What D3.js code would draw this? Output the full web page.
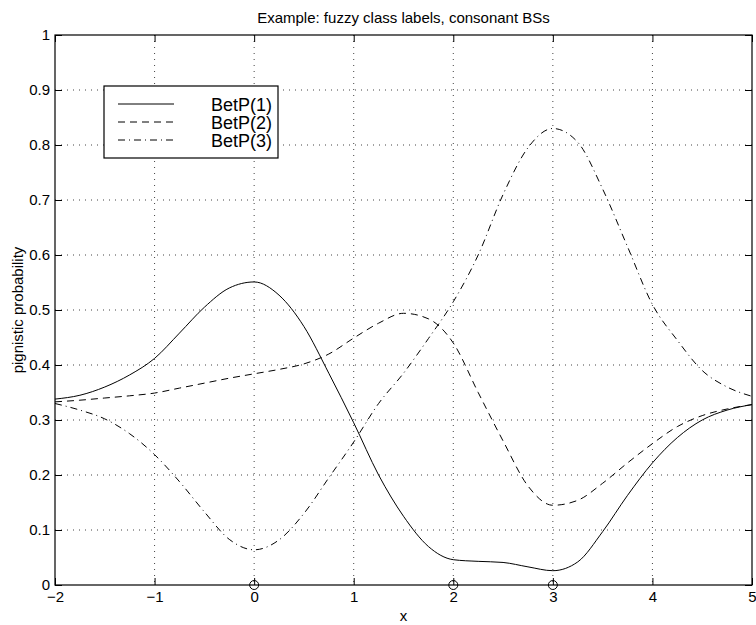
<!DOCTYPE html>
<html>
<head>
<meta charset="utf-8">
<script src="https://cdn.jsdelivr.net/npm/d3@7"></script>
<style>
  html, body { margin: 0; padding: 0; background: #fff; overflow: hidden; }
  svg { display: block; }
  text { font-family: "Liberation Sans", Arial, Helvetica, sans-serif; }
</style>
</head>
<body>
<svg id="chart"></svg>
<script>
// values, step 0.25
const xValues = [-2, -1.75, -1.5, -1.25, -1, -0.75, -0.5, -0.25, 0, 0.25, 0.5, 0.75, 1, 1.25, 1.5,
  1.75, 2, 2.25, 2.5, 2.75, 3, 3.25, 3.5, 3.75, 4, 4.25, 4.5, 4.75, 5];
const betP1 = [0.338, 0.345, 0.360, 0.382, 0.412, 0.458, 0.505, 0.540, 0.551, 0.527, 0.470, 0.385,
  0.295, 0.200, 0.125, 0.070, 0.046, 0.043, 0.041, 0.033, 0.026, 0.042, 0.097, 0.163, 0.222, 0.268,
  0.300, 0.318, 0.328];
const betP2 = [0.333, 0.336, 0.340, 0.344, 0.349, 0.358, 0.367, 0.376, 0.384, 0.392, 0.402, 0.420,
  0.449, 0.476, 0.494, 0.484, 0.440, 0.350, 0.262, 0.180, 0.145, 0.154, 0.185, 0.222, 0.257, 0.288,
  0.308, 0.320, 0.328];
const betP3 = [0.330, 0.318, 0.302, 0.275, 0.237, 0.188, 0.133, 0.083, 0.064, 0.082, 0.130, 0.195,
  0.260, 0.330, 0.385, 0.448, 0.515, 0.600, 0.710, 0.795, 0.830, 0.805, 0.720, 0.615, 0.510, 0.445,
  0.390, 0.360, 0.343];
const markerX = [0, 2, 3];
const seriesNames = ["BetP(1)", "BetP(2)", "BetP(3)"];
const dashes = [null, "7,5", "7,4,1,4"];
const xTicks = [-2, -1, 0, 1, 2, 3, 4, 5];
const yTicks = [0, 0.1, 0.2, 0.3, 0.4, 0.5, 0.6, 0.7, 0.8, 0.9, 1];

const width = 756;
const height = 625;
const margin = { top: 35, right: 4, bottom: 40, left: 55 };
const innerWidth = width - margin.left - margin.right;
const innerHeight = height - margin.top - margin.bottom;

const svg = d3.select("#chart").attr("width", width).attr("height", height);
const chart = svg.append("g").attr("transform", `translate(${margin.left},${margin.top})`);

const x = d3.scaleLinear().domain([-2, 5]).range([0, innerWidth]);
const y = d3.scaleLinear().domain([0, 1]).range([innerHeight, 0]);

// dotted grid
chart.append("g")
  .selectAll("line.vgrid")
  .data(xTicks.slice(1, -1))
  .join("line")
  .attr("x1", (d) => x(d)).attr("x2", (d) => x(d))
  .attr("y1", 0).attr("y2", innerHeight)
  .attr("stroke", "#444").attr("stroke-dasharray", "1,5");
chart.append("g")
  .selectAll("line.hgrid")
  .data(yTicks.slice(1, -1))
  .join("line")
  .attr("y1", (d) => y(d)).attr("y2", (d) => y(d))
  .attr("x1", 0).attr("x2", innerWidth)
  .attr("stroke", "#444").attr("stroke-dasharray", "1,5");

// axes, ticks pointing inwards on all sides
const fmt = d3.format("");
function styleAxis(g) {
  g.select(".domain").remove();
  g.selectAll("text").attr("font-size", "15px").attr("fill", "#000")
    .attr("font-family", '"Liberation Sans", Arial, sans-serif');
}
function ticksOnly(g) {
  g.select(".domain").remove();
  g.selectAll("text").remove();
}
chart.append("g").attr("transform", `translate(0,${innerHeight})`)
  .call(d3.axisBottom(x).tickValues(xTicks).tickFormat(fmt).tickSize(-7).tickPadding(6))
  .call(styleAxis);
chart.append("g")
  .call(d3.axisTop(x).tickValues(xTicks).tickSize(-7))
  .call(ticksOnly);
chart.append("g")
  .call(d3.axisLeft(y).tickValues(yTicks).tickFormat(fmt).tickSize(-7).tickPadding(5))
  .call(styleAxis);
chart.append("g").attr("transform", `translate(${innerWidth},0)`)
  .call(d3.axisRight(y).tickValues(yTicks).tickSize(-7))
  .call(ticksOnly);

chart.append("rect")
  .attr("width", innerWidth).attr("height", innerHeight)
  .attr("fill", "none").attr("stroke", "#000").attr("stroke-width", 1.2);

// curves
const series = [betP1, betP2, betP3];
const line = d3.line()
  .x((d) => x(d[0]))
  .y((d) => y(d[1]))
  .curve(d3.curveMonotoneX);

series.forEach((vals, i) => {
  chart.append("path")
    .datum(xValues.map((v, j) => [v, vals[j]]))
    .attr("d", line)
    .attr("fill", "none")
    .attr("stroke", "#000")
    .attr("stroke-width", 1)
    .attr("stroke-dasharray", dashes[i]);
});

// markers on the x axis
chart.selectAll("circle.marker")
  .data(markerX)
  .join("circle")
  .attr("class", "marker")
  .attr("cx", (d) => x(d)).attr("cy", y(0)).attr("r", 4.5)
  .attr("fill", "none").attr("stroke", "#000").attr("stroke-width", 1);

// title and axis labels
svg.append("text")
  .attr("x", margin.left + innerWidth / 2).attr("y", 23)
  .attr("text-anchor", "middle").attr("font-size", "15px")
  .text("Example: fuzzy class labels, consonant BSs");
svg.append("text")
  .attr("x", margin.left + innerWidth / 2).attr("y", 621)
  .attr("text-anchor", "middle").attr("font-size", "15px")
  .text("x");
svg.append("text")
  .attr("transform", `translate(23,${margin.top + innerHeight / 2}) rotate(-90)`)
  .attr("text-anchor", "middle").attr("font-size", "15px")
  .text("pignistic probability");

// legend
const legend = svg.append("g").attr("transform", "translate(104,86)");
legend.append("rect")
  .attr("width", 174).attr("height", 72)
  .attr("fill", "#fff").attr("stroke", "#000").attr("stroke-width", 1.2);
seriesNames.forEach((name, i) => {
  const ly = 18 + i * 18;
  legend.append("line")
    .attr("x1", 14).attr("x2", 70).attr("y1", ly).attr("y2", ly)
    .attr("stroke", "#000").attr("stroke-dasharray", dashes[i]);
  legend.append("text")
    .attr("x", 168).attr("y", ly + 7)
    .attr("text-anchor", "end").attr("font-size", "18px")
    .text(name);
});
</script>
</body>
</html>
